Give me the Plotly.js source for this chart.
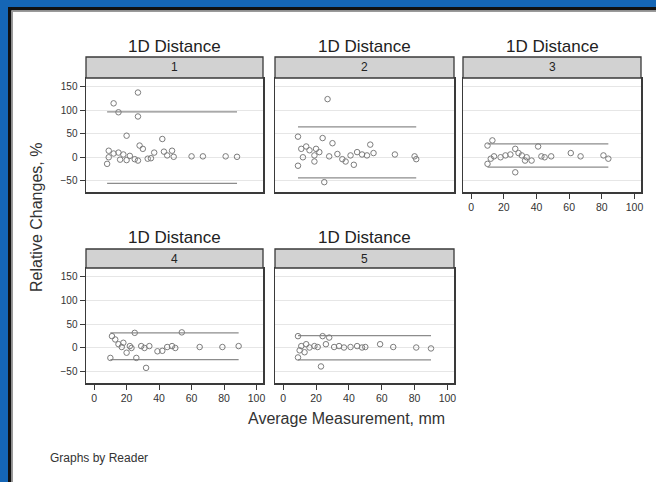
<!DOCTYPE html>
<html>
<head>
<meta charset="utf-8">
<script src="https://cdn.plot.ly/plotly-3.0.1.min.js"></script>
<style>
html,body{margin:0;padding:0;background:#fff;}
#chart{width:656px;height:482px;}
</style>
</head>
<body>
<div id="chart"></div>
<script>
// ---- Data ----
var panelLabels = ["1", "2", "3", "4", "5"];
var stripTitle = "1D Distance";
var xTickVals = [0, 20, 40, 60, 80, 100];
var yTickVals = [-50, 0, 50, 100, 150];

var x1 = [12, 27, 15, 27, 20, 42, 9, 12, 15, 18, 28, 30, 9, 8, 16, 20, 25, 27, 33, 37, 43, 48, 49, 60, 67, 81, 88, 22, 35, 45];
var y1 = [115, 138, 96, 87, 46, 39, 14, 8, 10, 6, 25, 18, 0, -14, -5, -6, -4, -7, -3, 10, 12, 14, 1, 2, 2, 2, 1, 3, -2, 4];

var x2 = [9, 24, 30, 14, 11, 20, 22, 19, 28, 33, 36, 38, 19, 43, 9, 45, 48, 51, 53, 55, 68, 80, 81, 25, 27, 16, 12, 41];
var y2 = [44, 41, 30, 23, 18, 18, 11, 4, 2, 7, -4, -9, -9, -16, -18, 11, 6, 4, 27, 9, 6, 2, -4, -53, 124, 15, 0, 4];

var x3 = [13, 10, 27, 41, 14, 18, 21, 24, 29, 31, 34, 37, 43, 45, 49, 10, 27, 61, 67, 81, 84, 12, 33];
var y3 = [36, 25, 18, 23, 2, 0, 4, 6, 9, 4, 0, -7, 2, 0, 2, -14, -32, 9, 2, 4, -3, -3, -7];

var x4 = [54, 25, 11, 13, 10, 32, 20, 26, 89, 79, 65, 15, 17, 22, 23, 29, 31, 34, 39, 42, 45, 48, 50, 18];
var y4 = [33, 32, 25, 18, -21, -42, -10, -21, 4, 2, 2, 8, 2, 4, 0, 4, 0, 4, -7, -6, 2, 4, 0, 11];

var x5 = [9, 24, 28, 23, 9, 59, 67, 81, 90, 11, 14, 16, 19, 21, 31, 34, 37, 41, 45, 48, 50, 10, 13, 26];
var y5 = [25, 25, 22, -39, -20, 8, 2, 1, -1, 4, 8, 1, 4, 2, 2, 4, 1, 2, 4, 1, 2, -5, -9, 8];

var upperLimits = [97, 65, 28.5, 32, 26];
var lowerLimits = [-55.5, -44, -21, -24.5, -25];

var xs = [x1, x2, x3, x4, x5];
var ys = [y1, y2, y3, y4, y5];

// ---- Layout geometry (pixels) ----
var W = 656, H = 482;
var colPx = [[86, 263], [275, 454], [463, 641]];
var rowPx = [[78, 192], [268, 383]];
var stripPx = [[57, 78], [249, 268]];
var titleY = [46, 237];
var cells = [[0, 0], [0, 1], [0, 2], [1, 0], [1, 1]];
function px(x) { return x / W; }
function py(y) { return 1 - y / H; }

var fontFam = "Liberation Sans, Arial, sans-serif";
var markerColor = "#7c7c7c";
var lineColor = "#8c8c8c";
var boxColor = "#3a3a3a";

var traces = [];
var layout = {
  width: W, height: H,
  margin: {l: 0, r: 0, t: 0, b: 0},
  paper_bgcolor: "#ffffff",
  plot_bgcolor: "#ffffff",
  showlegend: false,
  font: {family: fontFam, color: "#333333"},
  shapes: [],
  annotations: []
};

for (var i = 0; i < 5; i++) {
  var r = cells[i][0], c = cells[i][1];
  var sfx = i === 0 ? "" : String(i + 1);
  var xa = "x" + sfx, ya = "y" + sfx;
  var xmin = Math.min.apply(null, xs[i]), xmax = Math.max.apply(null, xs[i]);

  traces.push({
    x: [xmin, xmax], y: [upperLimits[i], upperLimits[i]],
    xaxis: xa, yaxis: ya, mode: "lines", type: "scatter",
    line: {color: lineColor, width: 1.2}, hoverinfo: "skip"
  });
  traces.push({
    x: [xmin, xmax], y: [lowerLimits[i], lowerLimits[i]],
    xaxis: xa, yaxis: ya, mode: "lines", type: "scatter",
    line: {color: lineColor, width: 1.2}, hoverinfo: "skip"
  });
  traces.push({
    x: xs[i], y: ys[i], xaxis: xa, yaxis: ya,
    mode: "markers", type: "scatter",
    marker: {symbol: "circle-open", size: 5.5, color: markerColor, line: {width: 1, color: markerColor}}
  });

  var showXLabels = (r === 1) || (i === 2);
  var showYLabels = (c === 0);

  layout["xaxis" + sfx] = {
    domain: [px(colPx[c][0]), px(colPx[c][1])],
    anchor: ya,
    range: [-5, 104],
    tickvals: xTickVals,
    showticklabels: showXLabels,
    ticks: showXLabels ? "outside" : "",
    ticklen: 5, tickwidth: 1, tickcolor: boxColor,
    tickfont: {size: 10.5, color: "#333333", family: fontFam},
    showgrid: false, zeroline: false,
    showline: true, mirror: true, linecolor: boxColor, linewidth: 1.5
  };
  layout["yaxis" + sfx] = {
    domain: [py(rowPx[r][1]), py(rowPx[r][0])],
    anchor: xa,
    range: [-74, 169],
    tickvals: yTickVals,
    showticklabels: showYLabels,
    ticks: showYLabels ? "outside" : "",
    ticklen: 5, tickwidth: 1, tickcolor: boxColor,
    tickfont: {size: 10, color: "#333333", family: fontFam},
    showgrid: true, gridcolor: "#e6e6e6", gridwidth: 1,
    zeroline: false,
    showline: true, mirror: true, linecolor: boxColor, linewidth: 1.5
  };

  // strip
  layout.shapes.push({
    type: "rect", xref: "paper", yref: "paper",
    x0: px(colPx[c][0]), x1: px(colPx[c][1]),
    y0: py(stripPx[r][1]), y1: py(stripPx[r][0]),
    fillcolor: "#d2d2d2", line: {color: boxColor, width: 1.3}, layer: "above"
  });
  layout.annotations.push({
    xref: "paper", yref: "paper",
    x: px((colPx[c][0] + colPx[c][1]) / 2), y: py((stripPx[r][0] + stripPx[r][1]) / 2),
    text: panelLabels[i], showarrow: false, xanchor: "center", yanchor: "middle",
    font: {size: 12, color: "#222222", family: fontFam}
  });
  layout.annotations.push({
    xref: "paper", yref: "paper",
    x: px((colPx[c][0] + colPx[c][1]) / 2), y: py(titleY[r]),
    text: stripTitle, showarrow: false, xanchor: "center", yanchor: "middle",
    font: {size: 17, color: "#222222", family: fontFam}
  });
}

// axis titles and note
layout.annotations.push({
  xref: "paper", yref: "paper", x: px(346), y: py(418),
  text: "Average Measurement, mm", showarrow: false,
  xanchor: "center", yanchor: "middle",
  font: {size: 16, color: "#333333", family: fontFam}
});
layout.annotations.push({
  xref: "paper", yref: "paper", x: px(37), y: py(218),
  text: "Relative Changes, %", showarrow: false, textangle: -90,
  xanchor: "center", yanchor: "middle",
  font: {size: 16, color: "#333333", family: fontFam}
});
layout.annotations.push({
  xref: "paper", yref: "paper", x: px(48), y: py(458),
  text: "Graphs by Reader", showarrow: false,
  xanchor: "left", yanchor: "middle",
  font: {size: 12, color: "#333333", family: fontFam}
});

// frame: blue outer border and dark inner edge
layout.shapes.push({type: "rect", xref: "paper", yref: "paper", x0: 0, x1: 1, y0: py(7), y1: 1,
  fillcolor: "#1566b6", line: {width: 0}, layer: "above"});
layout.shapes.push({type: "rect", xref: "paper", yref: "paper", x0: 0, x1: px(8), y0: 0, y1: 1,
  fillcolor: "#1566b6", line: {width: 0}, layer: "above"});
layout.shapes.push({type: "rect", xref: "paper", yref: "paper", x0: px(8), x1: 1, y0: py(10.5), y1: py(7),
  fillcolor: "#111111", line: {width: 0}, layer: "above"});
layout.shapes.push({type: "rect", xref: "paper", yref: "paper", x0: px(8), x1: px(11.5), y0: 0, y1: py(7),
  fillcolor: "#111111", line: {width: 0}, layer: "above"});
layout.shapes.push({type: "rect", xref: "paper", yref: "paper", x0: px(11.5), x1: 1, y0: py(12), y1: py(10.5),
  fillcolor: "#9a9a9a", line: {width: 0}, layer: "above"});
layout.shapes.push({type: "rect", xref: "paper", yref: "paper", x0: px(11.5), x1: px(13), y0: 0, y1: py(10.5),
  fillcolor: "#9a9a9a", line: {width: 0}, layer: "above"});

Plotly.newPlot("chart", traces, layout, {staticPlot: true, displayModeBar: false});
</script>
</body>
</html>
